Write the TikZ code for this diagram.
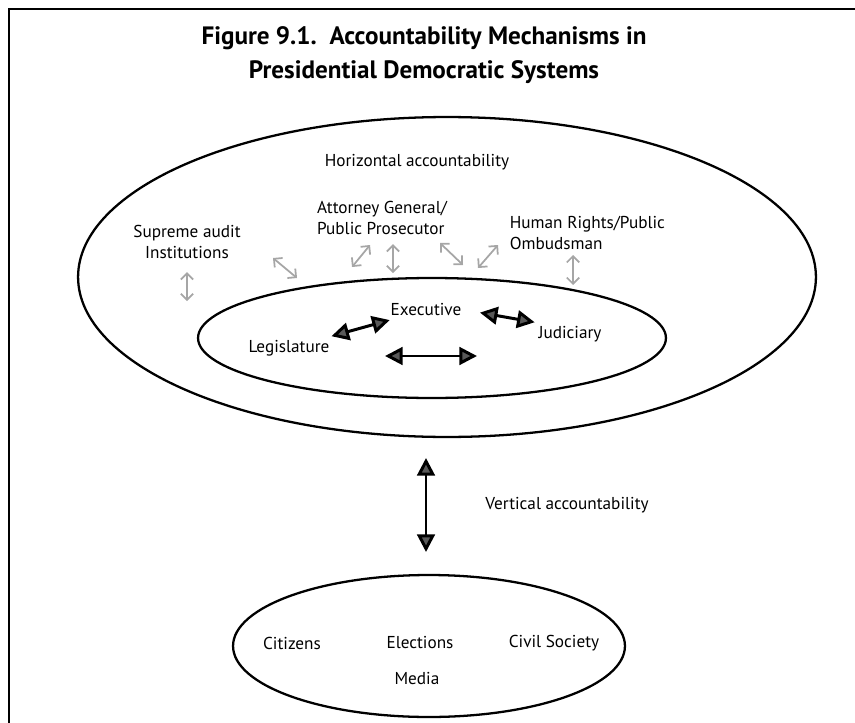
\documentclass[tikz,border=0pt]{standalone}
\usepackage{fontspec}
\setmainfont{PT Sans}
\usetikzlibrary{arrows.meta,shapes.geometric}

\begin{document}
\begin{tikzpicture}[x=0.02cm, y=-0.02cm,
    txt/.style={font=\fontsize{9.8}{11.5}\selectfont, inner sep=2pt},
    ring/.style={shape=ellipse, draw=black, line width=1.3pt, inner sep=0pt},
    heavy/.style={line width=1.7pt,
      {Triangle[fill=black!65, length=10pt, width=10pt]}-{Triangle[fill=black!65, length=10pt, width=10pt]}},
    light/.style={draw=gray!70, line width=1pt,
      {Straight Barb[length=3.5pt, width=7pt]}-{Straight Barb[length=3.5pt, width=7pt]}}]
          \useasboundingbox (0,0) rectangle (855,723);
          % frame
          \draw[line width=1.2pt] (9,723) -- (9,9) -- (855,9);

          % title
          \node[font=\fontsize{14.3}{19.8}\selectfont\bfseries, align=center] at (424,55)
          (title) {Figure 9.1.\ \ Accountability Mechanisms in\\Presidential Democratic Systems};

          % ellipses
          \node[ring, minimum width=14.76cm, minimum height=6.4cm] at (447,277) (outer) {};
          \node[ring, minimum width=9.36cm, minimum height=2.4cm] at (432,338) (inner) {};
          \node[ring, minimum width=7.84cm, minimum height=2.84cm] at (429,646) (base) {};

          % horizontal level
          \node[txt] at (417,162) (horiz) {Horizontal accountability};
          \node[txt, align=center] at (187,242) (audit) {Supreme audit\\Institutions};
          \node[txt, align=left] at (382,218) (attorney) {Attorney General/\\Public Prosecutor};
          \node[txt, align=left, anchor=west] at (506,233) (ombud) {Human Rights/Public\\Ombudsman};

          % inner level
          \node[txt] at (426,310) (exec) {Executive};
          \node[txt] at (289,348) (leg) {Legislature};
          \node[txt] at (570,334) (jud) {Judiciary};

          % vertical level
          \node[txt] at (567,505) (vert) {Vertical accountability};
          \node[txt] at (292,643) (cit) {Citizens};
          \node[txt] at (420,643) (elect) {Elections};
          \node[txt] at (554,643) (civil) {Civil Society};
          \node[txt] at (417,679) (media) {Media};

          % free ends
          \coordinate (vtop) at (426,458);
          \coordinate (vbot) at (426,552);
          \coordinate (hl) at (385,356);
          \coordinate (hr) at (477,356);

          % arcs
          \draw[heavy] (leg) -- (exec);
          \draw[heavy, shorten <=0.3cm] (exec.east) -- (jud.north west);
          \draw[heavy] (hl) -- (hr);
          \draw[heavy] (vtop) -- (vbot);

          \draw[light] (audit.south) ++(0,10) -- ++(0,29);
          \draw[light] (273,258) -- (297,278);
          \draw[light] (352,267) -- (370,245);
          \draw[light] (attorney.south -| 393,0) ++(0,6) -- ++(0,29);
          \draw[light] (440,243) -- (463,265);
          \draw[light] (478,268) -- (498,245);
          \draw[light] (573,255) -- (573,285);
        \end{tikzpicture}
\end{document}
